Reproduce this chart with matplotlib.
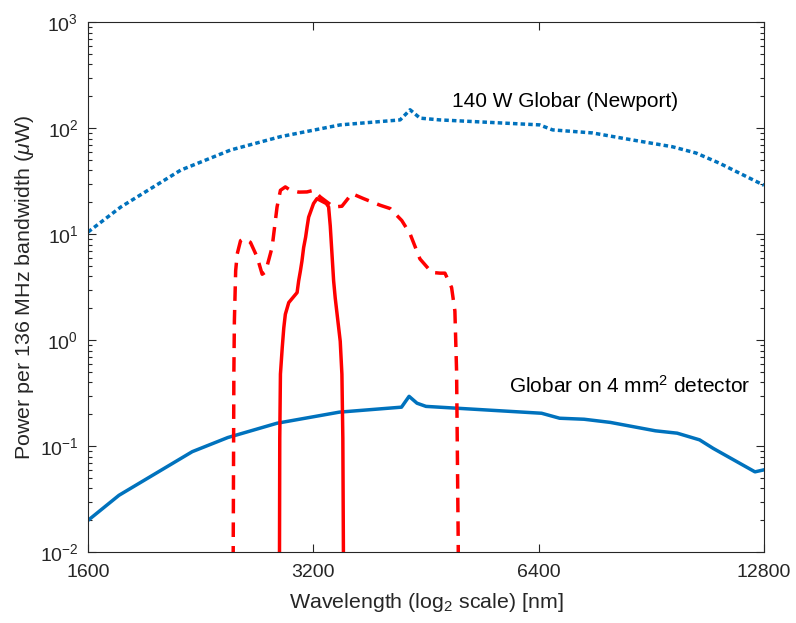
import numpy as np
import matplotlib
matplotlib.use("Agg")
import matplotlib.pyplot as plt
from matplotlib.ticker import LogLocator, NullLocator, FixedLocator, FixedFormatter

plt.rcParams['font.family'] = ['Liberation Sans', 'DejaVu Sans']
plt.rcParams['mathtext.fontset'] = 'custom'
plt.rcParams['mathtext.rm'] = 'Liberation Sans'
plt.rcParams['mathtext.it'] = 'Liberation Sans:italic'
plt.rcParams['axes.unicode_minus'] = False

# 140 W Globar (Newport), full output
newport_wl = [1600, 1770, 2128, 2481, 2892, 3476, 4179, 4309, 4443, 4723,
              6418, 6680, 7553, 8541, 9655, 10389, 11150, 12800]
newport_pw = [10.5, 18.1, 40.3, 62.4, 83.4, 107.7, 120, 149.5, 124.7, 120,
              107.7, 96.6, 90.4, 77.6, 67, 58.4, 47, 29]

# Globar on 4 mm^2 detector
det_wl = [1600, 1760, 2205, 2460, 2861, 3466, 4197, 4296, 4402, 4525,
          6458, 6826, 7360, 7980, 9165, 9800, 10500, 10950, 12450, 12800]
det_pw = [0.020, 0.0345, 0.089, 0.121, 0.165, 0.210, 0.234, 0.296, 0.255, 0.238,
          0.205, 0.184, 0.180, 0.168, 0.140, 0.133, 0.115, 0.0955, 0.0574, 0.0600]

# red dashed band
band_wl = [2500, 2506, 2510, 2520, 2532, 2558, 2584, 2637, 2692, 2734, 2762,
           2819, 2862, 2892, 2936, 2982, 3060, 3138, 3202, 3269, 3406, 3494,
           3603, 3735, 3930, 4053, 4200, 4309, 4442, 4605, 4723, 4797, 4896,
           4946, 4972, 4997, 5000]
band_pw = [0.005, 0.48, 1.52, 4.54, 6.53, 8.7, 9.1, 8.4, 6.1, 4.2, 4.4,
           7.55, 18.1, 26, 28, 26, 25, 25.1, 26, 22.5, 18.1, 18.4,
           24.2, 21.7, 18.8, 17.5, 13.5, 10.1, 5.86, 4.37, 4.3, 4.3, 3.15,
           1.89, 0.51, 0.0124, 0.005]

# red solid filter
filt_wl = [2883, 2886, 2892, 2908, 2922, 2936, 2967, 3044, 3059, 3075, 3090,
           3106, 3125, 3139, 3154, 3202, 3236, 3286, 3331, 3354, 3371, 3406,
           3423, 3476, 3494, 3504, 3512]
filt_pw = [0.005, 0.12, 0.48, 0.85, 1.31, 1.76, 2.27, 2.82, 3.65, 4.5, 5.6,
           7.5, 9.4, 11.7, 14.5, 19.5, 21.7, 20.5, 19.5, 18.1, 12.0, 3.65,
           2.5, 0.98, 0.478, 0.119, 0.005]

xticks = [1600, 3200, 6400, 12800]
xlabels = ['1600', '3200', '6400', '12800']

blue = '#0072BD'
red = '#FF0000'
axcol = '#262626'

fig = plt.figure(figsize=(7.96, 6.23), dpi=100)
ax = fig.add_axes([88 / 796, 1 - 552.3 / 623, 676 / 796, 530 / 623])

ax.plot(newport_wl, newport_pw, color=blue, lw=2.5, dashes=(1.3, 0.9),
        dash_capstyle='butt')
ax.plot(det_wl, det_pw, color=blue, lw=2.5)
ax.plot(band_wl, band_pw, color=red, lw=2.5, dashes=(4.2, 2.6))
ax.plot(filt_wl, filt_pw, color=red, lw=2.5)

ax.set_xscale('log', base=2)
ax.set_yscale('log')
ax.set_xlim(1600, 12800)
ax.set_ylim(1e-2, 1e3)
ax.xaxis.set_major_locator(FixedLocator(xticks))
ax.xaxis.set_major_formatter(FixedFormatter(xlabels))
ax.xaxis.set_minor_locator(NullLocator())
ax.yaxis.set_major_locator(LogLocator(base=10, numticks=10))
ax.yaxis.set_minor_locator(LogLocator(base=10, subs=np.arange(2, 10), numticks=10))

ax.tick_params(which='both', direction='in', top=True, right=True,
               colors=axcol, labelsize=14, width=0.8)
ax.tick_params(which='major', length=6)
ax.tick_params(which='minor', length=3)
ax.tick_params(axis='x', pad=8.5)
ax.tick_params(axis='y', pad=7)
for s in ax.spines.values():
    s.set_color(axcol)
    s.set_linewidth(0.8)

ax.set_xlabel('Wavelength (log$_2$ scale) [nm]', fontsize=15.4, color=axcol)
ax.set_ylabel('Power per 136 MHz bandwidth ($\\mu$W)', fontsize=15.4, color=axcol)
ax.xaxis.set_label_coords(0.5, -0.073)
ax.yaxis.set_label_coords(-0.077, 0.5)

ax.text(4904, 160, '140 W Globar (Newport)', fontsize=15, color='black',
        ha='left', va='baseline')
ax.text(5835, 0.318, 'Globar on 4 mm$^2$ detector', fontsize=15, color='black',
        ha='left', va='baseline')

fig.savefig('out.png', dpi=100)
